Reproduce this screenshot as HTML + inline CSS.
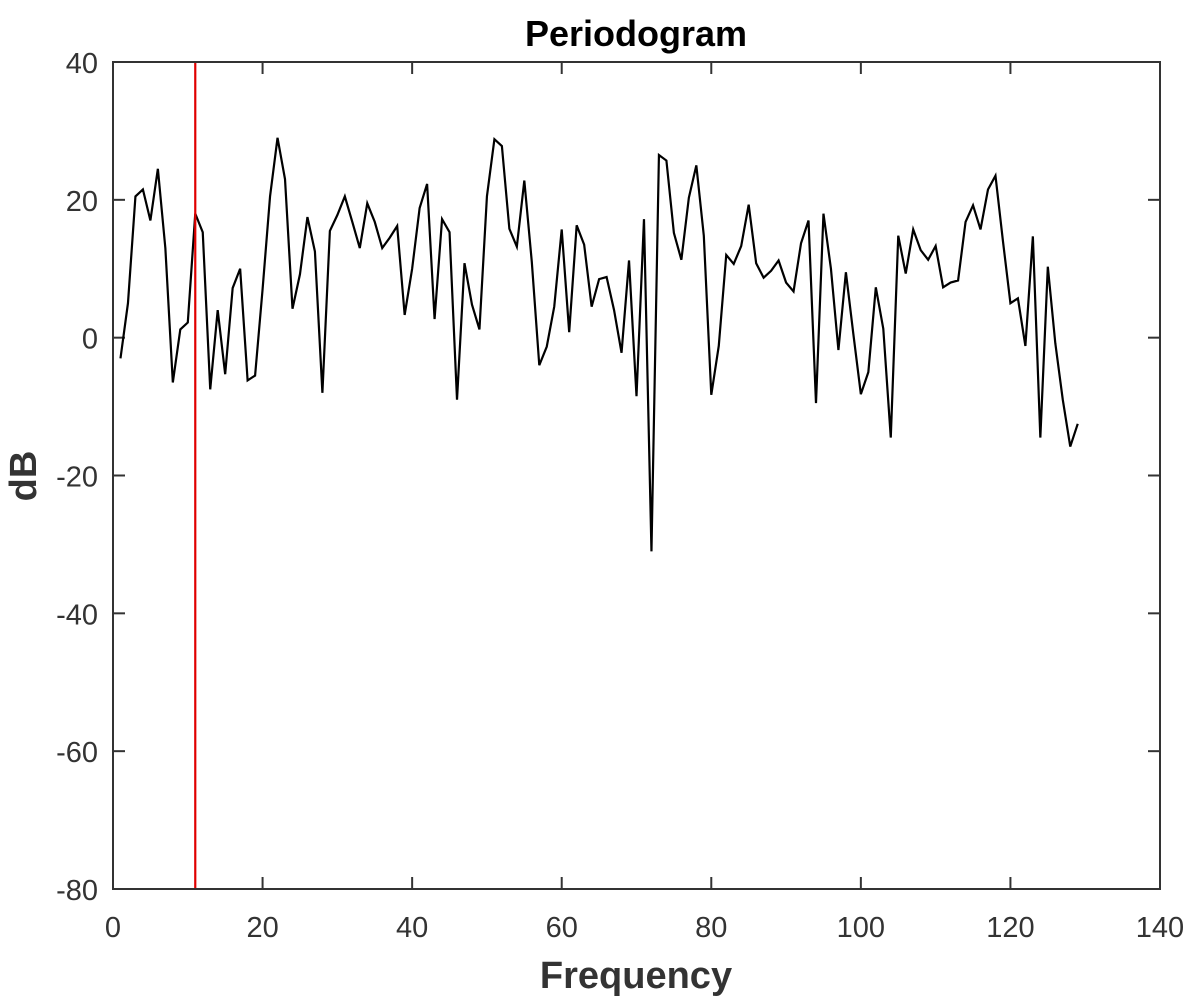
<!DOCTYPE html>
<html><head><meta charset="utf-8"><style>
html,body{margin:0;padding:0;background:#fff;}
svg{display:block;font-family:"Liberation Sans",sans-serif;}
</style></head><body>
<svg id="chart" width="1200" height="1001" viewBox="0 0 1200 1001">
<rect width="1200" height="1001" fill="#fff"/>
<text x="636" y="46" text-anchor="middle" font-size="36" font-weight="bold" fill="#000">Periodogram</text>
<text x="636" y="988" text-anchor="middle" font-size="38" font-weight="bold" fill="#333">Frequency</text>
<text transform="translate(36,476) rotate(-90)" text-anchor="middle" font-size="38" font-weight="bold" fill="#333">dB</text>
<g id="ticks"></g>
<g id="plot"></g>
<rect x="113" y="62" width="1047" height="827" fill="none" stroke="#333" stroke-width="2"/>
</svg>
<script>
const values = [-3,5,20.5,21.5,17,24.5,13,-6.5,1.2,2.2,18,15.3,-7.5,4,-5.3,7.2,10,-6.2,-5.5,7,20.5,29,23,4.2,9.2,17.5,12.5,-8,15.5,17.8,20.5,16.8,13,19.5,16.8,13,14.5,16.2,3.3,10,18.8,22.3,2.7,17.2,15.3,-9,10.8,4.8,1.2,20.5,28.8,27.8,15.8,13.2,22.8,11,-4,-1.3,4.5,15.7,0.8,16.3,13.5,4.5,8.5,8.8,4,-2.2,11.2,-8.5,17.2,-31,26.5,25.7,15.2,11.3,20.3,25,14.8,-8.3,-1.2,12,10.7,13.3,19.3,10.8,8.7,9.7,11.2,8,6.7,13.7,17,-9.5,18,10,-1.8,9.5,0.5,-8.2,-5,7.3,1.3,-14.5,14.8,9.3,15.7,12.7,11.3,13.3,7.3,8,8.3,16.8,19.2,15.7,21.5,23.5,14,5,5.7,-1.2,14.7,-14.5,10.3,-0.8,-9,-15.8,-12.5];
const markerFreq = 11;
const xTicks = [0,20,40,60,80,100,120,140];
const yTicks = [40,20,0,-20,-40,-60,-80];
const xMin=0,xMax=140,yMin=-80,yMax=40;
const L=113,R=1160,T=62,B=889;
function sx(v){return L+(v-xMin)/(xMax-xMin)*(R-L);}
function sy(v){return B-(v-yMin)/(yMax-yMin)*(B-T);}
const NS='http://www.w3.org/2000/svg';
const tg=document.getElementById('ticks');
const pg=document.getElementById('plot');
function mk(tag,attrs,parent){const e=document.createElementNS(NS,tag);for(const k in attrs)e.setAttribute(k,attrs[k]);parent.appendChild(e);return e;}
xTicks.forEach(t=>{
  const x=sx(t);
  const a=mk('line',{x1:x,x2:x,y1:B,y2:B-12,stroke:'#333','stroke-width':2},tg);
  
  
  const b=mk('line',{x1:x,x2:x,y1:T,y2:T+12,stroke:'#333','stroke-width':2},tg);
  
  
  const tx=mk('text',{x:x,y:B+48,'text-anchor':'middle','font-size':29,fill:'#333'},tg);
  tx.textContent=t;
  
  
});
yTicks.forEach(t=>{
  const y=sy(t);
  const a=mk('line',{x1:L,x2:L+12,y1:y,y2:y,stroke:'#333','stroke-width':2},tg);
  
  
  const b=mk('line',{x1:R,x2:R-12,y1:y,y2:y,stroke:'#333','stroke-width':2},tg);
  
  
  const tx=mk('text',{x:L-15,y:y+11,'text-anchor':'end','font-size':29,fill:'#333'},tg);
  tx.textContent=t;
  
  
});
const pts=values.map((v,i)=>sx(i+1).toFixed(2)+','+sy(v).toFixed(2)).join(' ');
const line=mk('polyline',{points:pts,fill:'none',stroke:'#000','stroke-width':2.2,'stroke-linejoin':'miter'},pg);


const mx=sx(markerFreq);
const red=mk('line',{x1:mx,x2:mx,y1:T,y2:B,stroke:'#e00000','stroke-width':2.2},pg);


</script>
</body></html>
